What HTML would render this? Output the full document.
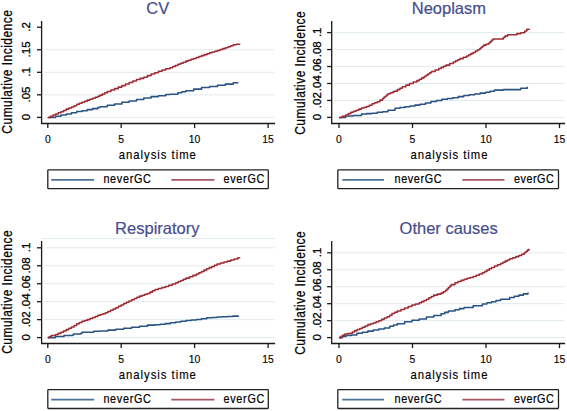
<!DOCTYPE html>
<html><head><meta charset="utf-8"><style>
html,body{margin:0;padding:0;background:#fff;}
svg{display:block;}
text{font-family:"Liberation Sans", sans-serif;}
</style></head><body>
<svg width="567" height="411" viewBox="0 0 567 411">
<rect width="567" height="411" fill="#fff"/>
<line x1="44.6" y1="117.4" x2="274.6" y2="117.4" stroke="#e1eaed" stroke-width="1"/>
<line x1="44.6" y1="94.85" x2="274.6" y2="94.85" stroke="#e1eaed" stroke-width="1"/>
<line x1="44.6" y1="72.3" x2="274.6" y2="72.3" stroke="#e1eaed" stroke-width="1"/>
<line x1="44.6" y1="49.75" x2="274.6" y2="49.75" stroke="#e1eaed" stroke-width="1"/>
<path d="M47.8 117.4 H55.6 V116.2 H60.9 V114.9 H66.2 V113.9 H71.5 V112.8 H76.7 V111.5 H82 V110.7 H87.3 V109.6 H92.6 V108.6 H97.9 V107.5 H100 V106.8 H107.3 V105.3 H114.6 V103.9 H121.9 V102.2 H129.2 V101 H136.5 V99.5 H143.8 V98 H151.1 V96.6 H158.4 V95.7 H165.7 V94.4 H170 V94.2 H177.9 V92.8 H181.85 V91.75 H185.8 V90.7 H193.7 V89.1 H201.6 V87.5 H209.6 V86.4 H217.5 V85.3 H225.4 V84.1 H233.3 V82.7 H238 V82.6" fill="none" stroke="#285382" stroke-width="1.55" stroke-linejoin="round"/>
<path d="M47.8 117.4 H50.4 V116.23 H53 V115.07 H55.6 V113.9 H58.25 V112.8 H60.9 V111.7 H63.55 V110.4 H66.2 V109.1 H68.85 V108.05 H71.5 V107 H74.1 V105.65 H76.7 V104.3 H79.35 V103.25 H82 V102.2 H84.65 V101.15 H87.3 V100.1 H89.95 V99.15 H92.6 V98.2 H95.25 V97.2 H97.9 V96.2 H100 V95.1 H102.43 V93.9 H104.87 V92.7 H107.3 V91.5 H110.95 V90.05 H114.6 V88.6 H118.25 V87.1 H121.9 V85.6 H125.55 V84 H129.2 V82.4 H132.85 V80.95 H136.5 V79.5 H140.15 V78.35 H143.8 V77.2 H147.45 V75.6 H151.1 V74 H154.75 V72.65 H158.4 V71.3 H162.05 V70.05 H165.7 V68.8 H170 V67.7 H172.63 V66.57 H175.27 V65.43 H177.9 V64.3 H180.53 V63.23 H183.17 V62.17 H185.8 V61.1 H188.43 V60.2 H191.07 V59.3 H193.7 V58.4 H196.33 V57.47 H198.97 V56.53 H201.6 V55.6 H204.27 V54.63 H206.93 V53.67 H209.6 V52.7 H212.23 V51.97 H214.87 V51.23 H217.5 V50.5 H220.13 V49.57 H222.77 V48.63 H225.4 V47.7 H228.03 V46.73 H230.67 V45.77 H233.3 V44.8 H236.45 V44.15 H239.6 V43.5" fill="none" stroke="#9e2c33" stroke-width="1.55" stroke-linejoin="round"/>
<path d="M41.6 21 V123.5 H275.1" fill="none" stroke="#1a1a1a" stroke-width="1.3"/>
<line x1="37" y1="117.4" x2="41.6" y2="117.4" stroke="#1a1a1a" stroke-width="1.3"/>
<text transform="translate(30.2 117.1) rotate(-90)" font-size="11.5" text-anchor="middle" fill="#000" stroke="#000" stroke-width="0.3">0</text>
<line x1="37" y1="94.85" x2="41.6" y2="94.85" stroke="#1a1a1a" stroke-width="1.3"/>
<text transform="translate(30.2 94.55) rotate(-90)" font-size="11.5" text-anchor="middle" fill="#000" stroke="#000" stroke-width="0.3">.05</text>
<line x1="37" y1="72.3" x2="41.6" y2="72.3" stroke="#1a1a1a" stroke-width="1.3"/>
<text transform="translate(30.2 72) rotate(-90)" font-size="11.5" text-anchor="middle" fill="#000" stroke="#000" stroke-width="0.3">.1</text>
<line x1="37" y1="49.75" x2="41.6" y2="49.75" stroke="#1a1a1a" stroke-width="1.3"/>
<text transform="translate(30.2 49.45) rotate(-90)" font-size="11.5" text-anchor="middle" fill="#000" stroke="#000" stroke-width="0.3">.15</text>
<line x1="37" y1="27.2" x2="41.6" y2="27.2" stroke="#1a1a1a" stroke-width="1.3"/>
<text transform="translate(30.2 26.9) rotate(-90)" font-size="11.5" text-anchor="middle" fill="#000" stroke="#000" stroke-width="0.3">.2</text>
<line x1="47.8" y1="123.5" x2="47.8" y2="128.1" stroke="#1a1a1a" stroke-width="1.3"/>
<text transform="translate(47.8 143.3) scale(0.9 1)" font-size="11.5" text-anchor="middle" fill="#000" stroke="#000" stroke-width="0.15">0</text>
<line x1="121.2" y1="123.5" x2="121.2" y2="128.1" stroke="#1a1a1a" stroke-width="1.3"/>
<text transform="translate(121.2 143.3) scale(0.9 1)" font-size="11.5" text-anchor="middle" fill="#000" stroke="#000" stroke-width="0.15">5</text>
<line x1="194.6" y1="123.5" x2="194.6" y2="128.1" stroke="#1a1a1a" stroke-width="1.3"/>
<text transform="translate(194.6 143.3) scale(0.9 1)" font-size="11.5" text-anchor="middle" fill="#000" stroke="#000" stroke-width="0.15">10</text>
<line x1="268.1" y1="123.5" x2="268.1" y2="128.1" stroke="#1a1a1a" stroke-width="1.3"/>
<text transform="translate(268.1 143.3) scale(0.9 1)" font-size="11.5" text-anchor="middle" fill="#000" stroke="#000" stroke-width="0.15">15</text>
<text transform="translate(157.8 13.5)" font-size="16.5" text-anchor="middle" fill="#474d8c" stroke="#474d8c" stroke-width="0.2">CV</text>
<text transform="translate(157.3 159.2) scale(0.92 1)" font-size="12.3" text-anchor="middle" fill="#000" textLength="83.7" lengthAdjust="spacing" stroke="#000" stroke-width="0.15">analysis time</text>
<text transform="translate(11.9 71.9) rotate(-90) scale(0.86 1)" font-size="14" text-anchor="middle" fill="#000" textLength="143.6" lengthAdjust="spacing" stroke="#000" stroke-width="0.25">Cumulative Incidence</text>
<rect x="47.8" y="169.8" width="220.5" height="18.9" fill="none" stroke="#222" stroke-width="1.3" rx="0.8"/>
<line x1="51.2" y1="179.85" x2="94.1" y2="179.85" stroke="#4d7299" stroke-width="1.7"/>
<line x1="171.3" y1="179.85" x2="214.4" y2="179.85" stroke="#a95663" stroke-width="1.7"/>
<text transform="translate(103.4 182.6) scale(0.9 1)" font-size="12" text-anchor="start" fill="#000" textLength="52.78" lengthAdjust="spacing" stroke="#000" stroke-width="0.2">neverGC</text>
<text transform="translate(223.4 182.6) scale(0.9 1)" font-size="12" text-anchor="start" fill="#000" textLength="45.56" lengthAdjust="spacing" stroke="#000" stroke-width="0.2">everGC</text>
<line x1="334.7" y1="117.4" x2="564.6" y2="117.4" stroke="#e1eaed" stroke-width="1"/>
<line x1="334.7" y1="100.44" x2="564.6" y2="100.44" stroke="#e1eaed" stroke-width="1"/>
<line x1="334.7" y1="83.48" x2="564.6" y2="83.48" stroke="#e1eaed" stroke-width="1"/>
<line x1="334.7" y1="66.52" x2="564.6" y2="66.52" stroke="#e1eaed" stroke-width="1"/>
<line x1="334.7" y1="49.56" x2="564.6" y2="49.56" stroke="#e1eaed" stroke-width="1"/>
<line x1="334.7" y1="32.6" x2="564.6" y2="32.6" stroke="#e1eaed" stroke-width="1"/>
<path d="M339 117.4 H345.6 V116 H353 V115.4 H361.5 V113.9 H366.75 V113.6 H372 V113.3 H377.3 V112.3 H382.6 V111.7 H387.9 V110.2 H395 V108.3 H400 V107.5 H405 V106.7 H410 V105.9 H415 V105.1 H420 V104.3 H425.45 V102.9 H430.9 V101.5 H436.4 V100.4 H441.9 V99.3 H447.35 V98.5 H452.8 V97.7 H458.3 V96.6 H463.8 V95.5 H469.25 V94.75 H474.7 V94 H480.2 V93.1 H485.7 V92.2 H490.05 V91.15 H494.4 V90.1 H503.2 V89.6 H508.7 V89.6 H514.2 V89.6 H520.7 V88.3 H527.3 V86.8" fill="none" stroke="#285382" stroke-width="1.55" stroke-linejoin="round"/>
<path d="M339 117.4 H342.3 V116.15 H345.6 V114.9 H348.25 V113.6 H350.9 V112.3 H353.55 V111.25 H356.2 V110.2 H358.85 V109.1 H361.5 V108 H364.1 V107.25 H366.7 V106.5 H369.35 V105.15 H372 V103.8 H374.65 V102.75 H377.3 V101.7 H379.95 V100.1 H382.6 V98.5 H383.93 V97.33 H385.25 V96.15 H386.57 V94.97 H387.9 V93.8 H390.55 V92.7 H393.2 V91.6 H395 V91.1 H397.43 V89.63 H399.87 V88.17 H402.3 V86.7 H405.95 V85.1 H409.6 V83.5 H413.25 V82.05 H416.9 V80.6 H419.33 V79.23 H421.77 V77.87 H424.2 V76.5 H426.02 V75.22 H427.85 V73.95 H429.68 V72.68 H431.5 V71.4 H435.15 V69.95 H438.8 V68.5 H441.23 V67.37 H443.67 V66.23 H446.1 V65.1 H449.75 V63.5 H453.4 V61.9 H455.6 V60.8 H457.8 V59.7 H460 V58.6 H463.3 V57.3 H466.6 V56 H468.8 V54.8 H471 V53.6 H473.2 V52.4 H475.4 V51.07 H477.6 V49.73 H479.8 V48.4 H481.13 V47.3 H482.47 V46.2 H483.8 V45.1 H486.1 V44.3 H488.4 V43.5 H489.57 V42.35 H490.75 V41.2 H491.93 V40.05 H493.1 V38.9 H495.97 V38.9 H498.83 V38.9 H501.7 V38.9 H503.35 V37.5 H505 V36.1 H507.6 V34.8 H510.9 V34.8 H514.2 V34.8 H516.9 V33.6 H520.8 V32.8 H524.8 V31 H526.8 V29.3 H529.4 V29" fill="none" stroke="#9e2c33" stroke-width="1.55" stroke-linejoin="round"/>
<path d="M331.7 21.1 V123.5 H565.1" fill="none" stroke="#1a1a1a" stroke-width="1.3"/>
<line x1="327.1" y1="117.4" x2="331.7" y2="117.4" stroke="#1a1a1a" stroke-width="1.3"/>
<text transform="translate(321.4 117.1) rotate(-90)" font-size="11.5" text-anchor="middle" fill="#000" stroke="#000" stroke-width="0.3">0</text>
<line x1="327.1" y1="100.44" x2="331.7" y2="100.44" stroke="#1a1a1a" stroke-width="1.3"/>
<text transform="translate(321.4 100.14) rotate(-90)" font-size="11.5" text-anchor="middle" fill="#000" stroke="#000" stroke-width="0.3">.02</text>
<line x1="327.1" y1="83.48" x2="331.7" y2="83.48" stroke="#1a1a1a" stroke-width="1.3"/>
<text transform="translate(321.4 83.18) rotate(-90)" font-size="11.5" text-anchor="middle" fill="#000" stroke="#000" stroke-width="0.3">.04</text>
<line x1="327.1" y1="66.52" x2="331.7" y2="66.52" stroke="#1a1a1a" stroke-width="1.3"/>
<text transform="translate(321.4 66.22) rotate(-90)" font-size="11.5" text-anchor="middle" fill="#000" stroke="#000" stroke-width="0.3">.06</text>
<line x1="327.1" y1="49.56" x2="331.7" y2="49.56" stroke="#1a1a1a" stroke-width="1.3"/>
<text transform="translate(321.4 49.26) rotate(-90)" font-size="11.5" text-anchor="middle" fill="#000" stroke="#000" stroke-width="0.3">.08</text>
<line x1="327.1" y1="32.6" x2="331.7" y2="32.6" stroke="#1a1a1a" stroke-width="1.3"/>
<text transform="translate(321.4 32.3) rotate(-90)" font-size="11.5" text-anchor="middle" fill="#000" stroke="#000" stroke-width="0.3">.1</text>
<line x1="339" y1="123.5" x2="339" y2="128.1" stroke="#1a1a1a" stroke-width="1.3"/>
<text transform="translate(339 143.3) scale(0.9 1)" font-size="11.5" text-anchor="middle" fill="#000" stroke="#000" stroke-width="0.15">0</text>
<line x1="412.5" y1="123.5" x2="412.5" y2="128.1" stroke="#1a1a1a" stroke-width="1.3"/>
<text transform="translate(412.5 143.3) scale(0.9 1)" font-size="11.5" text-anchor="middle" fill="#000" stroke="#000" stroke-width="0.15">5</text>
<line x1="486" y1="123.5" x2="486" y2="128.1" stroke="#1a1a1a" stroke-width="1.3"/>
<text transform="translate(486 143.3) scale(0.9 1)" font-size="11.5" text-anchor="middle" fill="#000" stroke="#000" stroke-width="0.15">10</text>
<line x1="559.5" y1="123.5" x2="559.5" y2="128.1" stroke="#1a1a1a" stroke-width="1.3"/>
<text transform="translate(559.5 143.3) scale(0.9 1)" font-size="11.5" text-anchor="middle" fill="#000" stroke="#000" stroke-width="0.15">15</text>
<text transform="translate(448.9 13.5)" font-size="16.5" text-anchor="middle" fill="#474d8c" stroke="#474d8c" stroke-width="0.2">Neoplasm</text>
<text transform="translate(449 159.2) scale(0.92 1)" font-size="12.3" text-anchor="middle" fill="#000" textLength="83.7" lengthAdjust="spacing" stroke="#000" stroke-width="0.15">analysis time</text>
<text transform="translate(304.9 73.1) rotate(-90) scale(0.86 1)" font-size="14" text-anchor="middle" fill="#000" textLength="143.6" lengthAdjust="spacing" stroke="#000" stroke-width="0.25">Cumulative Incidence</text>
<rect x="337.8" y="169.8" width="220.7" height="18.9" fill="none" stroke="#222" stroke-width="1.3" rx="0.8"/>
<line x1="342.3" y1="179.85" x2="384" y2="179.85" stroke="#4d7299" stroke-width="1.7"/>
<line x1="462.4" y1="179.85" x2="504.5" y2="179.85" stroke="#a95663" stroke-width="1.7"/>
<text transform="translate(394.6 182.6) scale(0.9 1)" font-size="12" text-anchor="start" fill="#000" textLength="52.11" lengthAdjust="spacing" stroke="#000" stroke-width="0.2">neverGC</text>
<text transform="translate(513.9 182.6) scale(0.9 1)" font-size="12" text-anchor="start" fill="#000" textLength="44.44" lengthAdjust="spacing" stroke="#000" stroke-width="0.2">everGC</text>
<line x1="44.6" y1="337.6" x2="274.6" y2="337.6" stroke="#e1eaed" stroke-width="1"/>
<line x1="44.6" y1="319.64" x2="274.6" y2="319.64" stroke="#e1eaed" stroke-width="1"/>
<line x1="44.6" y1="301.68" x2="274.6" y2="301.68" stroke="#e1eaed" stroke-width="1"/>
<line x1="44.6" y1="283.72" x2="274.6" y2="283.72" stroke="#e1eaed" stroke-width="1"/>
<line x1="44.6" y1="265.76" x2="274.6" y2="265.76" stroke="#e1eaed" stroke-width="1"/>
<line x1="44.6" y1="247.8" x2="274.6" y2="247.8" stroke="#e1eaed" stroke-width="1"/>
<line x1="41.6" y1="238.6" x2="275.1" y2="238.6" stroke="#e1eaed" stroke-width="1"/>
<path d="M47.8 337.6 H55.6 V336.5 H63 V336.5 H64 V335.4 H72.5 V334.9 H73.6 V333.9 H81 V333.3 H82 V332.3 H87.3 V332.3 H92.6 V332.3 H93.7 V331.2 H100 V330.9 H107.9 V330.1 H115.8 V329.3 H123.7 V328.2 H131.6 V327.3 H139.6 V326.2 H147.5 V325.1 H155 V324.7 H160.15 V324.15 H165.3 V323.6 H170.5 V322.8 H175.7 V322 H180.85 V321.25 H186 V320.5 H191.2 V320 H196.4 V319.5 H201.55 V318.65 H206.7 V317.8 H211.9 V317.4 H217.1 V317 H222.25 V316.7 H227.4 V316.4 H232.95 V316.1 H238.5 V315.8" fill="none" stroke="#285382" stroke-width="1.55" stroke-linejoin="round"/>
<path d="M47.8 337.6 H49.55 V336.5 H51.3 V335.4 H55.6 V334.4 H58.25 V333.35 H60.9 V332.3 H63.55 V330.95 H66.2 V329.6 H68.85 V328.3 H71.5 V327 H74.1 V325.4 H76.7 V323.8 H79.35 V322.5 H82 V321.2 H84.65 V320.4 H87.3 V319.6 H89.95 V318.55 H92.6 V317.5 H95.25 V316.4 H97.9 V315.3 H100.45 V314.55 H103 V313.8 H105.45 V312.65 H107.9 V311.5 H110.53 V310.23 H113.17 V308.97 H115.8 V307.7 H118.43 V306.3 H121.07 V304.9 H123.7 V303.5 H126.33 V302.23 H128.97 V300.97 H131.6 V299.7 H134.27 V298.5 H136.93 V297.3 H139.6 V296.1 H142.23 V295.2 H144.87 V294.3 H147.5 V293.4 H150 V292.1 H152.5 V290.8 H155 V289.5 H158.43 V288.47 H161.87 V287.43 H165.3 V286.4 H168.77 V285.17 H172.23 V283.93 H175.7 V282.7 H178.27 V281.55 H180.85 V280.4 H183.43 V279.25 H186 V278.1 H189.47 V276.73 H192.93 V275.37 H196.4 V274 H198.97 V272.7 H201.55 V271.4 H204.12 V270.1 H206.7 V268.8 H209.3 V267.6 H211.9 V266.4 H214.5 V265.2 H217.1 V264 H220.53 V263.03 H223.97 V262.07 H227.4 V261.1 H230.87 V260 H234.33 V258.9 H237.8 V257.8 H239.8 V257.4" fill="none" stroke="#9e2c33" stroke-width="1.55" stroke-linejoin="round"/>
<path d="M41.6 241.1 V343.5 H275.1" fill="none" stroke="#1a1a1a" stroke-width="1.3"/>
<line x1="37" y1="337.6" x2="41.6" y2="337.6" stroke="#1a1a1a" stroke-width="1.3"/>
<text transform="translate(30.2 337.3) rotate(-90)" font-size="11.5" text-anchor="middle" fill="#000" stroke="#000" stroke-width="0.3">0</text>
<line x1="37" y1="319.64" x2="41.6" y2="319.64" stroke="#1a1a1a" stroke-width="1.3"/>
<text transform="translate(30.2 319.34) rotate(-90)" font-size="11.5" text-anchor="middle" fill="#000" stroke="#000" stroke-width="0.3">.02</text>
<line x1="37" y1="301.68" x2="41.6" y2="301.68" stroke="#1a1a1a" stroke-width="1.3"/>
<text transform="translate(30.2 301.38) rotate(-90)" font-size="11.5" text-anchor="middle" fill="#000" stroke="#000" stroke-width="0.3">.04</text>
<line x1="37" y1="283.72" x2="41.6" y2="283.72" stroke="#1a1a1a" stroke-width="1.3"/>
<text transform="translate(30.2 283.42) rotate(-90)" font-size="11.5" text-anchor="middle" fill="#000" stroke="#000" stroke-width="0.3">.06</text>
<line x1="37" y1="265.76" x2="41.6" y2="265.76" stroke="#1a1a1a" stroke-width="1.3"/>
<text transform="translate(30.2 265.46) rotate(-90)" font-size="11.5" text-anchor="middle" fill="#000" stroke="#000" stroke-width="0.3">.08</text>
<line x1="37" y1="247.8" x2="41.6" y2="247.8" stroke="#1a1a1a" stroke-width="1.3"/>
<text transform="translate(30.2 247.5) rotate(-90)" font-size="11.5" text-anchor="middle" fill="#000" stroke="#000" stroke-width="0.3">.1</text>
<line x1="47.8" y1="343.5" x2="47.8" y2="348.1" stroke="#1a1a1a" stroke-width="1.3"/>
<text transform="translate(47.8 363.3) scale(0.9 1)" font-size="11.5" text-anchor="middle" fill="#000" stroke="#000" stroke-width="0.15">0</text>
<line x1="121.2" y1="343.5" x2="121.2" y2="348.1" stroke="#1a1a1a" stroke-width="1.3"/>
<text transform="translate(121.2 363.3) scale(0.9 1)" font-size="11.5" text-anchor="middle" fill="#000" stroke="#000" stroke-width="0.15">5</text>
<line x1="194.6" y1="343.5" x2="194.6" y2="348.1" stroke="#1a1a1a" stroke-width="1.3"/>
<text transform="translate(194.6 363.3) scale(0.9 1)" font-size="11.5" text-anchor="middle" fill="#000" stroke="#000" stroke-width="0.15">10</text>
<line x1="268.1" y1="343.5" x2="268.1" y2="348.1" stroke="#1a1a1a" stroke-width="1.3"/>
<text transform="translate(268.1 363.3) scale(0.9 1)" font-size="11.5" text-anchor="middle" fill="#000" stroke="#000" stroke-width="0.15">15</text>
<text transform="translate(157.3 233.8)" font-size="16.5" text-anchor="middle" fill="#474d8c" stroke="#474d8c" stroke-width="0.2">Respiratory</text>
<text transform="translate(157.3 379.2) scale(0.92 1)" font-size="12.3" text-anchor="middle" fill="#000" textLength="83.7" lengthAdjust="spacing" stroke="#000" stroke-width="0.15">analysis time</text>
<text transform="translate(11.9 292.1) rotate(-90) scale(0.86 1)" font-size="14" text-anchor="middle" fill="#000" textLength="143.6" lengthAdjust="spacing" stroke="#000" stroke-width="0.25">Cumulative Incidence</text>
<rect x="47.8" y="389.7" width="220.5" height="18.8" fill="none" stroke="#222" stroke-width="1.3" rx="0.8"/>
<line x1="51.2" y1="399.7" x2="94.1" y2="399.7" stroke="#4d7299" stroke-width="1.7"/>
<line x1="171.3" y1="399.7" x2="214.4" y2="399.7" stroke="#a95663" stroke-width="1.7"/>
<text transform="translate(103.4 402.5) scale(0.9 1)" font-size="12" text-anchor="start" fill="#000" textLength="52.78" lengthAdjust="spacing" stroke="#000" stroke-width="0.2">neverGC</text>
<text transform="translate(223.4 402.5) scale(0.9 1)" font-size="12" text-anchor="start" fill="#000" textLength="45.56" lengthAdjust="spacing" stroke="#000" stroke-width="0.2">everGC</text>
<line x1="334.7" y1="337.6" x2="564.6" y2="337.6" stroke="#e1eaed" stroke-width="1"/>
<line x1="334.7" y1="320.64" x2="564.6" y2="320.64" stroke="#e1eaed" stroke-width="1"/>
<line x1="334.7" y1="303.68" x2="564.6" y2="303.68" stroke="#e1eaed" stroke-width="1"/>
<line x1="334.7" y1="286.72" x2="564.6" y2="286.72" stroke="#e1eaed" stroke-width="1"/>
<line x1="334.7" y1="269.76" x2="564.6" y2="269.76" stroke="#e1eaed" stroke-width="1"/>
<line x1="334.7" y1="252.8" x2="564.6" y2="252.8" stroke="#e1eaed" stroke-width="1"/>
<path d="M339 337.6 H342.5 V336.55 H346 V335.5 H351.4 V335 H356.9 V333.3 H362.4 V332.2 H367.9 V331.1 H373.3 V330 H378.8 V329 H384.3 V327.9 H389.8 V326.2 H393.55 V324.95 H397.3 V323.7 H404.6 V321.8 H411.9 V320.3 H419.2 V318.9 H426.5 V317 H433.8 V315.5 H441.1 V313.8 H444.75 V312.35 H448.4 V310.9 H455 V309.7 H459.55 V308.6 H464.1 V307.5 H473.2 V305.7 H482.4 V303.9 H486.95 V302.8 H491.5 V301.7 H496.05 V300.5 H500.6 V299.3 H509.7 V297.5 H514.3 V296.3 H518.9 V295.1 H523.45 V293.85 H528 V292.6" fill="none" stroke="#285382" stroke-width="1.55" stroke-linejoin="round"/>
<path d="M339 337.6 H340.97 V336.37 H342.93 V335.13 H344.9 V333.9 H347.6 V333.6 H350.3 V333.3 H352.5 V331.95 H354.7 V330.6 H357.27 V329.5 H359.83 V328.4 H362.4 V327.3 H365.15 V325.95 H367.9 V324.6 H370.6 V323.75 H373.3 V322.9 H376.05 V321.8 H378.8 V320.7 H381.55 V319.35 H384.3 V318 H387.05 V316.65 H389.8 V315.3 H392 V313.4 H394.65 V312.15 H397.3 V310.9 H400.95 V309.4 H404.6 V307.9 H408.25 V306.45 H411.9 V305 H415.55 V303.9 H419.2 V302.8 H421.63 V301.6 H424.07 V300.4 H426.5 V299.2 H428.93 V297.83 H431.37 V296.47 H433.8 V295.1 H437.45 V294.1 H441.1 V293.1 H443.3 V291.75 H445.5 V290.4 H446.95 V288.95 H448.4 V287.5 H449.85 V286.05 H451.3 V284.6 H455 V282.7 H458.03 V281.53 H461.07 V280.37 H464.1 V279.2 H467.13 V278.3 H470.17 V277.4 H473.2 V276.5 H476.27 V275.27 H479.33 V274.03 H482.4 V272.8 H484.67 V271.45 H486.95 V270.1 H489.23 V268.75 H491.5 V267.4 H494.53 V266.07 H497.57 V264.73 H500.6 V263.4 H502.88 V262.25 H505.15 V261.1 H507.43 V259.95 H509.7 V258.8 H512.77 V257.7 H515.83 V256.6 H518.9 V255.5 H521.6 V254.15 H524.3 V252.8 H525.83 V251.47 H527.37 V250.13 H528.9 V248.8" fill="none" stroke="#9e2c33" stroke-width="1.55" stroke-linejoin="round"/>
<path d="M331.7 241.1 V343.5 H565.1" fill="none" stroke="#1a1a1a" stroke-width="1.3"/>
<line x1="327.1" y1="337.6" x2="331.7" y2="337.6" stroke="#1a1a1a" stroke-width="1.3"/>
<text transform="translate(321.4 337.3) rotate(-90)" font-size="11.5" text-anchor="middle" fill="#000" stroke="#000" stroke-width="0.3">0</text>
<line x1="327.1" y1="320.64" x2="331.7" y2="320.64" stroke="#1a1a1a" stroke-width="1.3"/>
<text transform="translate(321.4 320.34) rotate(-90)" font-size="11.5" text-anchor="middle" fill="#000" stroke="#000" stroke-width="0.3">.02</text>
<line x1="327.1" y1="303.68" x2="331.7" y2="303.68" stroke="#1a1a1a" stroke-width="1.3"/>
<text transform="translate(321.4 303.38) rotate(-90)" font-size="11.5" text-anchor="middle" fill="#000" stroke="#000" stroke-width="0.3">.04</text>
<line x1="327.1" y1="286.72" x2="331.7" y2="286.72" stroke="#1a1a1a" stroke-width="1.3"/>
<text transform="translate(321.4 286.42) rotate(-90)" font-size="11.5" text-anchor="middle" fill="#000" stroke="#000" stroke-width="0.3">.06</text>
<line x1="327.1" y1="269.76" x2="331.7" y2="269.76" stroke="#1a1a1a" stroke-width="1.3"/>
<text transform="translate(321.4 269.46) rotate(-90)" font-size="11.5" text-anchor="middle" fill="#000" stroke="#000" stroke-width="0.3">.08</text>
<line x1="327.1" y1="252.8" x2="331.7" y2="252.8" stroke="#1a1a1a" stroke-width="1.3"/>
<text transform="translate(321.4 252.5) rotate(-90)" font-size="11.5" text-anchor="middle" fill="#000" stroke="#000" stroke-width="0.3">.1</text>
<line x1="339" y1="343.5" x2="339" y2="348.1" stroke="#1a1a1a" stroke-width="1.3"/>
<text transform="translate(339 363.3) scale(0.9 1)" font-size="11.5" text-anchor="middle" fill="#000" stroke="#000" stroke-width="0.15">0</text>
<line x1="412.5" y1="343.5" x2="412.5" y2="348.1" stroke="#1a1a1a" stroke-width="1.3"/>
<text transform="translate(412.5 363.3) scale(0.9 1)" font-size="11.5" text-anchor="middle" fill="#000" stroke="#000" stroke-width="0.15">5</text>
<line x1="486" y1="343.5" x2="486" y2="348.1" stroke="#1a1a1a" stroke-width="1.3"/>
<text transform="translate(486 363.3) scale(0.9 1)" font-size="11.5" text-anchor="middle" fill="#000" stroke="#000" stroke-width="0.15">10</text>
<line x1="559.5" y1="343.5" x2="559.5" y2="348.1" stroke="#1a1a1a" stroke-width="1.3"/>
<text transform="translate(559.5 363.3) scale(0.9 1)" font-size="11.5" text-anchor="middle" fill="#000" stroke="#000" stroke-width="0.15">15</text>
<text transform="translate(448.65 234.4)" font-size="16.5" text-anchor="middle" fill="#474d8c" stroke="#474d8c" stroke-width="0.2">Other causes</text>
<text transform="translate(449 379.2) scale(0.92 1)" font-size="12.3" text-anchor="middle" fill="#000" textLength="83.7" lengthAdjust="spacing" stroke="#000" stroke-width="0.15">analysis time</text>
<text transform="translate(304.9 293.1) rotate(-90) scale(0.86 1)" font-size="14" text-anchor="middle" fill="#000" textLength="143.6" lengthAdjust="spacing" stroke="#000" stroke-width="0.25">Cumulative Incidence</text>
<rect x="337.8" y="389.7" width="220.7" height="18.8" fill="none" stroke="#222" stroke-width="1.3" rx="0.8"/>
<line x1="342.3" y1="399.7" x2="384" y2="399.7" stroke="#4d7299" stroke-width="1.7"/>
<line x1="462.4" y1="399.7" x2="504.5" y2="399.7" stroke="#a95663" stroke-width="1.7"/>
<text transform="translate(394.6 402.5) scale(0.9 1)" font-size="12" text-anchor="start" fill="#000" textLength="52.11" lengthAdjust="spacing" stroke="#000" stroke-width="0.2">neverGC</text>
<text transform="translate(513.9 402.5) scale(0.9 1)" font-size="12" text-anchor="start" fill="#000" textLength="44.44" lengthAdjust="spacing" stroke="#000" stroke-width="0.2">everGC</text>
</svg>
</body></html>
